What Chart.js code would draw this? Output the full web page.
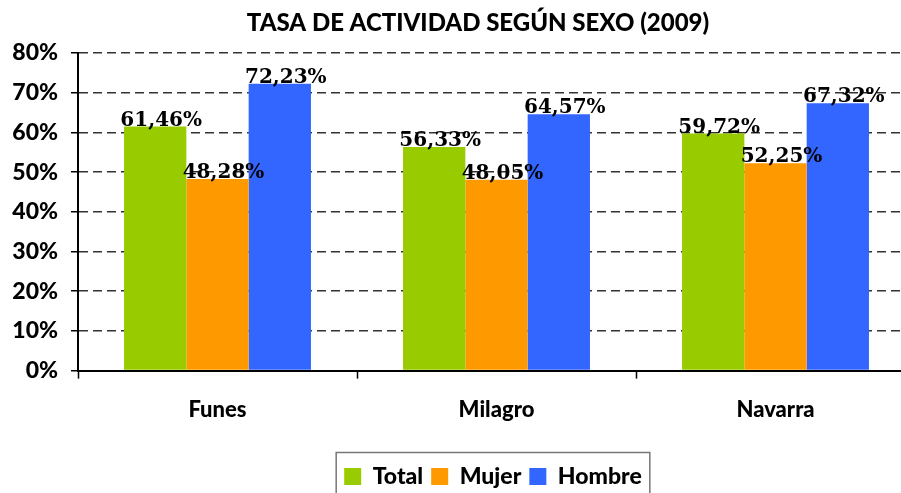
<!DOCTYPE html>
<html>
<head>
<meta charset="UTF-8">
<title>Tasa de actividad según sexo (2009)</title>
<script src="https://cdn.jsdelivr.net/npm/chart.js"></script>
<style>
  html, body { margin: 0; padding: 0; background: #fff; overflow: hidden; }
  body { width: 901px; height: 493px; position: relative; }
  #chart { position: absolute; left: 0; top: 0; }
</style>
</head>
<body>
<canvas id="chart" width="986" height="540"></canvas>
<script>
// data
const categories = ['Funes', 'Milagro', 'Navarra'];
const totalValues = [61.46, 56.33, 59.72];
const mujerValues = [48.28, 48.05, 52.25];
const hombreValues = [72.23, 64.57, 67.32];
const seriesNames = ['Total', 'Mujer', 'Hombre'];
const yTicks = [0, 10, 20, 30, 40, 50, 60, 70, 80];
const chartTitle = 'TASA DE ACTIVIDAD SEGÚN SEXO (2009)';

const colors = ['#99CC00', '#FF9900', '#3366FF'];
const sansFont = 'Lato, "Open Sans", sans-serif';

// title drawn by hand (it is not centred on the same box as the legend)
const titlePlugin = {
  id: 'titleText',
  afterDraw(chart) {
    const ctx = chart.ctx;
    ctx.save();
    ctx.font = '900 24px ' + sansFont;
    ctx.fillStyle = '#000';
    ctx.textAlign = 'center';
    ctx.textBaseline = 'middle';
    ctx.fillText(chartTitle, 478, 23);
    ctx.restore();
  }
};

// values written above each bar, with decimal comma
const valueLabels = {
  id: 'valueLabels',
  afterDatasetsDraw(chart) {
    const ctx = chart.ctx;
    ctx.save();
    ctx.font = 'bold 20px "DejaVu Serif", serif';
    ctx.fillStyle = '#000';
    ctx.textAlign = 'center';
    ctx.textBaseline = 'alphabetic';
    chart.data.datasets.forEach((ds, i) => {
      chart.getDatasetMeta(i).data.forEach((bar, j) => {
        const txt = ds.data[j].toFixed(2).replace('.', ',') + '%';
        ctx.fillText(txt, bar.x + 6, bar.y - 1);
      });
    });
    ctx.restore();
  }
};

// grey frame round the legend
const legendFrame = {
  id: 'legendFrame',
  afterDraw(chart) {
    const boxes = chart.legend.legendHitBoxes;
    if (!boxes || !boxes.length) return;
    const left = Math.min(...boxes.map(b => b.left));
    const right = Math.max(...boxes.map(b => b.left + b.width));
    const mid = boxes[0].top + boxes[0].height / 2;
    const ctx = chart.ctx;
    ctx.save();
    ctx.strokeStyle = '#777';
    ctx.lineWidth = 1.5;
    ctx.strokeRect(left - 8, mid - 24, right - left + 16, 70);
    ctx.restore();
  }
};

new Chart(document.getElementById('chart'), {
  type: 'bar',
  data: {
    labels: categories,
    datasets: [
      { label: seriesNames[0], data: totalValues, backgroundColor: colors[0] },
      { label: seriesNames[1], data: mujerValues, backgroundColor: colors[1] },
      { label: seriesNames[2], data: hombreValues, backgroundColor: colors[2] }
    ]
  },
  options: {
    responsive: false,
    animation: false,
    devicePixelRatio: 1,
    layout: { padding: { top: 53, left: 0, right: 0, bottom: 42 } },
    datasets: {
      bar: { categoryPercentage: 0.67, barPercentage: 1.0, borderWidth: 0 }
    },
    plugins: {
      title: { display: false },
      tooltip: { enabled: false },
      legend: {
        position: 'bottom',
        labels: {
          color: '#000',
          font: { family: sansFont, size: 23, weight: '900' },
          boxWidth: 17,
          boxHeight: 17,
          padding: 8
        }
      }
    },
    scales: {
      x: {
        afterFit: s => { s.height += 16; },
        grid: {
          offset: true,
          drawOnChartArea: false,
          drawTicks: true,
          tickLength: 8,
          tickColor: '#000',
          tickWidth: 1.5
        },
        border: { display: true, color: '#000', width: 2 },
        ticks: {
          color: '#000',
          padding: 18,
          font: { family: sansFont, size: 22, weight: '900' }
        }
      },
      y: {
        min: 0,
        max: 80,
        afterBuildTicks: s => { s.ticks = yTicks.map(v => ({ value: v })); },
        afterFit: s => { s.width = 78; },
        grid: {
          color: '#333',
          lineWidth: 1.5,
          borderDash: [9, 5],
          tickLength: 7,
          tickColor: '#000',
          tickWidth: 1.5,
          tickBorderDash: [1, 0]
        },
        border: { display: true, color: '#000', width: 2, dash: [9, 5] },
        ticks: {
          color: '#000',
          padding: 13,
          font: { family: sansFont, size: 23, weight: '900' },
          callback: v => v + '%'
        }
      },
      // empty right-hand box so the plot runs past the page edge like the original
      yRight: {
        position: 'right',
        display: true,
        grid: { display: false },
        border: { display: false },
        ticks: { display: false },
        afterFit: s => { s.width = 71; }
      }
    }
  },
  plugins: [titlePlugin, valueLabels, legendFrame]
});
</script>
</body>
</html>
